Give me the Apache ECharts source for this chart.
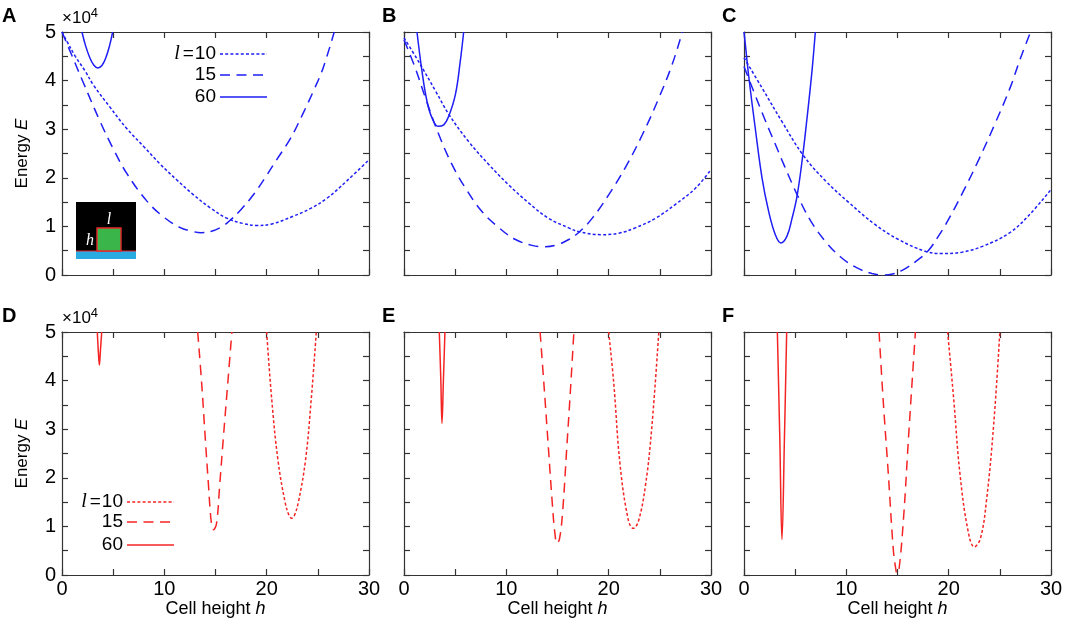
<!DOCTYPE html>
<html>
<head>
<meta charset="utf-8">
<script src="https://cdn.jsdelivr.net/npm/echarts@6/dist/echarts.min.js"></script>
<style>
  html, body { margin: 0; background: #fff; }
  #container { width: 1065px; height: 622px; }
</style>
</head>
<body>
<div id="container"></div>
<script>
// cell size l of the three curves in every panel
var cellSizes = [10, 15, 60];
var hTickLabels = [0, 10, 20, 30];
var eTickLabels = [0, 1, 2, 3, 4, 5];
var panelLetters = ['A', 'B', 'C', 'D', 'E', 'F'];

// energy E (x10^4) against cell height h
var A_l10 = [[0, 5.0], [0.5, 4.8], [1.3, 4.5], [2.25, 4.2], [3.1, 3.9], [4.7, 3.45], [6.3, 3.02], [8, 2.64], [9.6, 2.28], [11.2, 1.96], [12.8, 1.66], [14.5, 1.38], [16.1, 1.17], [17.7, 1.06], [19, 1.02], [20.5, 1.05], [22.6, 1.21], [24.3, 1.37], [25.9, 1.58], [27.8, 1.93], [30, 2.37]];
var A_l15 = [[0, 5.0], [1, 4.5], [2.1, 3.95], [3.7, 3.17], [5, 2.6], [6.3, 2.1], [8.3, 1.52], [9.9, 1.2], [11.5, 0.98], [12.7, 0.9], [13.6, 0.87], [14.6, 0.9], [15.5, 0.98], [16.3, 1.1], [17.5, 1.35], [18.7, 1.65], [20, 2.05], [21, 2.38], [22.3, 2.8], [23.5, 3.3], [24.6, 3.8], [25.5, 4.25], [26.6, 5.0]];
var A_l60 = [[1.95, 5.0], [2.3, 4.72], [2.7, 4.48], [3.1, 4.32], [3.5, 4.26], [3.9, 4.31], [4.3, 4.48], [4.65, 4.72], [4.95, 5.0]];

var B_l10 = [[0, 4.88], [1.4, 4.4], [3.1, 3.78], [4.4, 3.3], [6.3, 2.75], [8.3, 2.27], [10.2, 1.86], [12.2, 1.48], [14.1, 1.17], [16.1, 0.97], [17.1, 0.89], [19.3, 0.83], [21, 0.86], [22.6, 0.97], [24.6, 1.17], [26.5, 1.45], [28.5, 1.79], [30, 2.17]];
var B_l15 = [[0, 4.84], [1.1, 4.26], [2.1, 3.64], [3.4, 2.89], [4.7, 2.27], [6, 1.79], [7.6, 1.31], [9.3, 0.97], [10.9, 0.73], [12.5, 0.61], [13.6, 0.58], [14.8, 0.61], [16.1, 0.73], [17.1, 0.88], [18.4, 1.17], [20, 1.65], [21.6, 2.2], [23.3, 2.89], [24.9, 3.64], [26.2, 4.33], [27.2, 5.0]];
var B_l60 = [[1.27, 5.0], [1.76, 4.19], [2.25, 3.57], [2.74, 3.23], [3.32, 3.06], [3.88, 3.09], [4.36, 3.26], [5.02, 3.71], [5.5, 4.4], [5.83, 5.0]];

var C_l10 = [[0, 4.47], [1.76, 3.85], [3.7, 3.16], [5.8, 2.46], [7.95, 1.94], [10.2, 1.5], [12.8, 1.04], [15.1, 0.73], [17.7, 0.49], [19.3, 0.44], [21.3, 0.47], [23.3, 0.59], [25.9, 0.86], [27.8, 1.22], [30, 1.76]];
var C_l15 = [[0, 4.29], [1, 3.75], [2, 3.22], [3, 2.72], [4, 2.22], [5.2, 1.65], [6.5, 1.12], [8, 0.68], [9.5, 0.36], [11, 0.15], [12.5, 0.03], [13.5, 0], [14.5, 0.02], [15.5, 0.1], [16.8, 0.28], [18, 0.5], [19, 0.8], [20, 1.15], [21.5, 1.75], [23, 2.4], [24.5, 3.1], [26, 3.85], [27, 4.45], [28, 5.0]];
var C_l60 = [[0, 5.0], [0.13, 4.75], [0.46, 4.09], [1.1, 3.02], [1.76, 2.0], [2.41, 1.31], [3.06, 0.83], [3.6, 0.66], [4.2, 0.8], [4.7, 1.17], [5.18, 1.62], [5.67, 2.34], [6.16, 3.23], [6.64, 4.19], [6.97, 5.0]];

var D_l10 = [[20.0, 5.0], [20.5, 3.6], [21.1, 2.37], [21.8, 1.5], [22.2, 1.22], [22.45, 1.17], [22.7, 1.22], [23.1, 1.5], [23.8, 2.37], [24.35, 3.6], [24.85, 5.0]];
var D_l15 = [[13.26, 5.0], [13.65, 3.94], [13.97, 2.91], [14.3, 1.89], [14.6, 1.06], [14.8, 0.93], [15.1, 1.06], [15.4, 1.82], [15.8, 2.91], [16.25, 4.08], [16.6, 5.0]];
var D_l60 = [[3.45, 5.0], [3.55, 4.6], [3.65, 4.32], [3.75, 4.6], [3.88, 5.0]];

var E_l10 = [[20.0, 5.0], [20.5, 3.94], [21.1, 2.3], [21.9, 1.15], [22.4, 0.96], [22.9, 1.1], [23.6, 1.85], [24.2, 3.0], [24.9, 5.0]];
var E_l15 = [[13.3, 5.0], [13.7, 3.85], [14.1, 2.65], [14.5, 1.45], [14.75, 0.85], [14.95, 0.65], [15.2, 0.75], [15.5, 1.3], [15.9, 2.6], [16.25, 3.75], [16.6, 5.0]];
var E_l60 = [[3.45, 5.0], [3.6, 4.0], [3.71, 3.12], [3.85, 4.0], [4.0, 5.0]];

var F_l10 = [[19.9, 5.0], [20.5, 3.6], [21.1, 2.09], [21.9, 0.9], [22.5, 0.58], [23.1, 0.75], [23.7, 1.54], [24.4, 3.1], [25.0, 5.0]];
var F_l15 = [[13.2, 5.0], [13.6, 3.6], [14.1, 2.09], [14.6, 0.5], [14.85, 0.1], [14.95, 0.03], [15.15, 0.12], [15.6, 1.2], [16.1, 2.91], [16.75, 5.0]];
var F_l60 = [[3.26, 5.0], [3.5, 2.8], [3.71, 0.73], [3.95, 2.8], [4.17, 5.0]];

var panels = [
  [A_l10, A_l15, A_l60], [B_l10, B_l15, B_l60], [C_l10, C_l15, C_l60],
  [D_l10, D_l15, D_l60], [E_l10, E_l15, E_l60], [F_l10, F_l15, F_l60]
];

var FONT = '"Liberation Sans", Arial, Helvetica, sans-serif';
var SERIF = '"Liberation Serif", "DejaVu Serif", serif';
var FRAME = '#333';
var BLUE = '#1e1ef5';
var RED = '#f52424';
var dashes = [[3, 2.2], [10, 6.5], 'solid'];

var dom = document.getElementById('container');
var myChart = echarts.init(dom);

var lefts = [62, 404, 744];
var tops = [32, 332];

var grid = [], xAxis = [], yAxis = [], series = [], graphic = [];

function frameAxis(p, pos, extra) {
  var isX = pos === 'bottom' || pos === 'top';
  var ax = {
    gridIndex: p,
    type: 'value',
    position: pos,
    min: 0,
    max: isX ? 30 : 5,
    interval: isX ? 5 : 0.5,
    axisLine: { show: true, onZero: false, lineStyle: { color: FRAME, width: 1.2 } },
    axisTick: { show: true, inside: true, length: 6, lineStyle: { color: FRAME, width: 1.2 } },
    splitLine: { show: false },
    axisLabel: { show: false }
  };
  return Object.assign(ax, extra || {});
}

for (var p = 0; p < 6; p++) {
  var row = Math.floor(p / 3), col = p % 3;
  grid.push({
    left: lefts[col], top: tops[row], width: 307, height: 243,
    outerBoundsMode: 'none', containLabel: false
  });
  var xLab = row === 1, yLab = col === 0;
  xAxis.push(frameAxis(p, 'bottom', {
    axisLabel: {
      show: xLab, margin: 4, color: '#000', fontSize: 20, fontFamily: FONT,
      formatter: function (v) { return hTickLabels.indexOf(v) >= 0 ? String(v) : ''; }
    },
    name: xLab ? 'Cell height {i|h}' : '',
    nameLocation: 'middle',
    nameGap: 24,
    nameTextStyle: {
      color: '#000', fontSize: 18, fontFamily: FONT,
      rich: { i: { fontStyle: 'italic', fontSize: 18, fontFamily: FONT, color: '#000' } }
    }
  }));
  xAxis.push(frameAxis(p, 'top'));
  yAxis.push(frameAxis(p, 'left', {
    axisLabel: {
      show: yLab, margin: 6, color: '#000', fontSize: 20, fontFamily: FONT,
      formatter: function (v) { return eTickLabels.indexOf(v) >= 0 ? String(v) : ''; }
    },
    name: yLab ? 'Energy {i|E}' : '',
    nameLocation: 'middle',
    nameGap: 31,
    nameTextStyle: {
      color: '#000', fontSize: 17, fontFamily: FONT,
      rich: { i: { fontStyle: 'italic', fontSize: 17, fontFamily: FONT, color: '#000' } }
    }
  }));
  yAxis.push(frameAxis(p, 'right'));

  var color = row === 0 ? BLUE : RED;
  for (var k = 0; k < 3; k++) {
    series.push({
      type: 'line',
      name: 'l=' + cellSizes[k],
      xAxisIndex: 2 * p,
      yAxisIndex: 2 * p,
      data: panels[p][k],
      showSymbol: false,
      smooth: 0.4,
      clip: true,
      silent: true,
      lineStyle: { color: color, width: 1.5, type: dashes[k] }
    });
  }

  // panel letter
  graphic.push({
    type: 'text', left: lefts[col] - (col === 0 ? 60 : 22), top: tops[row] - 26,
    style: { text: panelLetters[p], fill: '#000', font: 'bold 20px ' + FONT }
  });
  // x10^4 multiplier
  if (yLab) {
    graphic.push({
      type: 'text', x: lefts[col], y: tops[row] - 14,
      style: {
        text: '×10{s|4}', fill: '#000', fontSize: 17, fontFamily: FONT, verticalAlign: 'middle',
        rich: { s: { fontSize: 13, fontFamily: FONT, verticalAlign: 'top', padding: [0, 0, 10, 0] } }
      }
    });
  }
}

// legends (drawn as small line samples with labels)
function legend(textRight, rowsY, color) {
  for (var k = 0; k < 3; k++) {
    var txt = k === 0 ? '{i|l}{e|=}' + cellSizes[k] : String(cellSizes[k]);
    graphic.push({
      type: 'text', x: textRight, y: rowsY[k],
      style: {
        text: txt, fill: '#000', fontSize: 19, fontFamily: FONT, align: 'right', verticalAlign: 'middle',
        rich: {
          i: { fontStyle: 'italic', fontFamily: SERIF, fontSize: 20 },
          e: { fontSize: 19, fontFamily: FONT, padding: [0, 1, 0, 3] }
        }
      }
    });
    graphic.push({
      type: 'line',
      shape: { x1: textRight + 4, y1: rowsY[k], x2: textRight + 51, y2: rowsY[k] },
      style: { stroke: color, lineWidth: 1.5, lineDash: dashes[k] === 'solid' ? null : dashes[k] }
    });
  }
}
legend(216, [54, 75, 97], BLUE);
legend(123, [502, 522, 545], RED);

// inset sketch in panel A
graphic.push(
  { type: 'rect', shape: { x: 76, y: 202, width: 60, height: 57 }, style: { fill: '#000' } },
  { type: 'rect', shape: { x: 76, y: 251, width: 60, height: 8 }, style: { fill: '#29abe2' } },
  { type: 'line', shape: { x1: 76, y1: 251, x2: 136, y2: 251 }, style: { stroke: '#e8262a', lineWidth: 1.2 } },
  { type: 'rect', shape: { x: 97, y: 228, width: 24, height: 23 }, style: { fill: '#3ab54a', stroke: '#e8262a', lineWidth: 1.4 } },
  { type: 'text', x: 109, y: 220, style: { text: 'l', fill: '#fff', fontSize: 16, fontStyle: 'italic', fontFamily: SERIF, align: 'center', verticalAlign: 'middle' } },
  { type: 'text', x: 90, y: 241, style: { text: 'h', fill: '#fff', fontSize: 16, fontStyle: 'italic', fontFamily: SERIF, align: 'center', verticalAlign: 'middle' } }
);

option = {
  animation: false,
  backgroundColor: '#fff',
  grid: grid,
  xAxis: xAxis,
  yAxis: yAxis,
  series: series,
  graphic: graphic
};

myChart.setOption(option, true);
</script>
</body>
</html>
